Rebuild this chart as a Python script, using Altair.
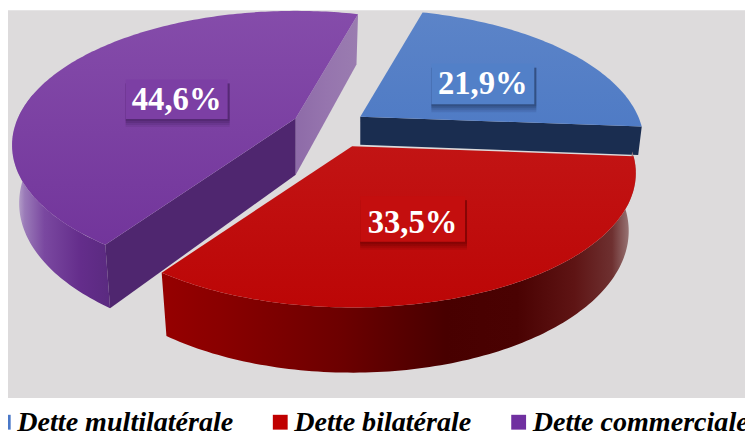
import math
import altair as alt

# ---- values ----
names = ["Dette multilatérale", "Dette bilatérale", "Dette commerciale"]
shares = [21.9, 33.5, 44.6]
labels = ["21,9%", "33,5%", "44,6%"]
legend_colors = ["#4A78C8", "#C00000", "#7030A0"]

# ---- layout of the perspective pie (page pixels) ----
PAGE_W, PAGE_H = 753, 434
GREY_BOTTOM = 400
CX, CY = 335, 127
SCALE, TILT, PERSP = 281, 0.464, 0.2
DEPTH, DEPTH_EXP, CONVERGE = 57, 0.65, 0.975
START = 15.5
explode = [0.115, 0.16, 0.16]
nudge_x = [0, -2, 1]
nudge_y = [-3, -1, -1]
box_x = [433, 361, 124]
box_x2 = [537, 467, 227]
box_y = [62, 196, 78]
box_y2 = [103, 242, 118]
text_base = [93, 233, 109]
box_colors = ["#5280C8", "#C40E0E", "#7C3FA4"]
shadow_colors = ["#1A2D50", "#5A0000", "#38164F"]
TRANSLATE = [-5, -8]


def vec(deg):
    a = math.radians(deg)
    return math.sin(a), -math.cos(a)


def project(u, v):
    w = 1 - PERSP * v
    return SCALE * u / w, SCALE * TILT * v / w, w


def slice_geometry(i):
    start = START + sum(shares[:i]) * 3.6
    end = start + shares[i] * 3.6
    bis = (start + end) / 2
    ux, vx = vec(bis)
    dx, dy, _ = project(explode[i] * ux, explode[i] * vx)
    ax, ay = CX + dx + nudge_x[i], CY + dy + nudge_y[i]
    return start, end, ax, ay


def rim(ax, ay, deg):
    u, v = vec(deg)
    dx, dy, w = project(u, v)
    return ax + dx, ay + dy, w


def lower(ax, x, y, w):
    return ax + (x - ax) * CONVERGE, y + DEPTH / w ** DEPTH_EXP


def arc_angles(a, b, step=1.0):
    n = max(2, int(abs(b - a) / step))
    return [a + (b - a) * j / n for j in range(n + 1)]


def top_poly(i):
    start, end, ax, ay = slice_geometry(i)
    pts = [(ax, ay)]
    for d in arc_angles(start, end):
        x, y, _ = rim(ax, ay, d)
        pts.append((x, y))
    return pts


def rim_wall(i, a, b):
    _, _, ax, ay = slice_geometry(i)
    up, low = [], []
    for d in arc_angles(a, b):
        x, y, w = rim(ax, ay, d)
        up.append((x, y))
        low.append(lower(ax, x, y, w))
    return up + low[::-1]


def cut_wall(i, deg, f=1.0):
    _, _, ax, ay = slice_geometry(i)
    x, y, w = rim(ax, ay, deg)
    lx, ly = lower(ax, x, y, w)
    lx, ly = x + (lx - x) * f, y + (ly - y) * f
    return [(ax, ay), (x, y), (lx, ly), (ax, ay + DEPTH * f)]


def rect(x, y, x2, y2):
    return [(x, y), (x2, y), (x2, y2), (x, y2)]


def feature(pts):
    ring = [[float(x), float(y)] for x, y in pts]
    ring.append(ring[0])
    return {"type": "Feature", "properties": {}, "geometry": {"type": "Polygon", "coordinates": [ring]}}


def grad(stops, horizontal=True):
    return alt.LinearGradient(
        gradient="linear",
        stops=[alt.GradientStop(color=c, offset=o) for o, c in stops],
        x1=0, x2=1 if horizontal else 0, y1=0, y2=0 if horizontal else 1,
    )


def shape(pts, **kw):
    return alt.Chart(alt.Data(values=[feature(pts)])).mark_geoshape(**kw).project(
        type="identity", scale=1, translate=TRANSLATE
    )


layers = [shape(rect(-10, -10, PAGE_W + 10, GREY_BOTTOM), fill="#DDDBDC")]

# blue slice
s0, e0, _, _ = slice_geometry(0)
layers.append(shape(cut_wall(0, e0, 0.5), fill="#1A2D50"))
layers.append(shape(top_poly(0), fill=grad([(0, "#5C84C8"), (1, "#4F7BC5")], False)))

# purple slice
s2, e2, _, _ = slice_geometry(2)
layers.append(shape(rim_wall(2, s2, s2 + 66), fill=grad([
    (0, "#CFC4D9"), (0.13, "#9A7AB8"), (0.33, "#7A48A0"), (0.7, "#642D8B"), (1, "#5A2A80")])))
layers.append(shape(cut_wall(2, s2), fill="#4F266F"))
layers.append(shape(cut_wall(2, e2), fill=grad([(0, "#8E6BA8"), (0.5, "#9675AE"), (1, "#9A7CB0")])))
layers.append(shape(top_poly(2), fill=grad([(0, "#854CAA"), (1, "#72359B")], False)))

# red slice
s1, e1, _, _ = slice_geometry(1)
layers.append(shape(rim_wall(1, s1 - 2, e1), fill=grad([
    (0, "#960000"), (0.12, "#8A0000"), (0.38, "#6C0000"), (0.6, "#480000"),
    (0.75, "#4A0202"), (0.87, "#5E1414"), (0.95, "#6E3030"), (1, "#A89090")])))
layers.append(shape(top_poly(1), fill=grad([(0, "#C21414"), (1, "#BC0606")], False)))

# value labels on shaded boxes
for i in range(3):
    for grow, op in [(8, 0.12), (6, 0.15), (4, 0.2), (2, 0.25)]:
        layers.append(shape(rect(box_x[i], box_y[i] + 4, box_x2[i] + min(grow, 2), box_y2[i] + grow),
                            fill=shadow_colors[i], fillOpacity=op))
    layers.append(shape(rect(box_x[i], box_y[i], box_x2[i], box_y2[i]), fill=box_colors[i]))

text_rows = [
    {"label": labels[i], "lon": (box_x[i] + box_x2[i]) / 2, "lat": text_base[i]}
    for i in range(3)
]
layers.append(
    alt.Chart(alt.Data(values=text_rows))
    .mark_text(font="Liberation Serif", fontSize=33, fontWeight="bold", color="white",
               align="center", baseline="alphabetic")
    .encode(longitude="lon:Q", latitude="lat:Q", text="label:N")
    .project(type="identity", scale=1, translate=TRANSLATE)
)

# legend
legend_rows = [{"name": n, "lon": 0, "lat": 0} for n in names]
layers.append(
    alt.Chart(alt.Data(values=legend_rows))
    .mark_point(filled=True, size=0)
    .encode(
        longitude="lon:Q",
        latitude="lat:Q",
        color=alt.Color(
            "name:N",
            scale=alt.Scale(domain=names, range=legend_colors),
            legend=alt.Legend(
                title=None, orient="none", legendX=-19, legendY=402, direction="horizontal",
                columns=3, columnPadding=33, symbolType="square", symbolSize=225,
                symbolStrokeWidth=0, symbolOpacity=1, labelFont="Liberation Serif",
                labelFontSize=28.4, labelFontStyle="italic", labelFontWeight="bold",
                labelColor="black", labelOffset=0, labelLimit=400, padding=0,
            ),
        ),
    )
    .project(type="identity", scale=1, translate=TRANSLATE)
)

chart = (
    alt.layer(*layers)
    .properties(width=745, height=426, padding=0, background="white",
                autosize=alt.AutoSizeParams(type="none"))
    .configure_view(stroke=None)
)
chart.save("out.html", embed_options={"renderer": "svg", "actions": False})
